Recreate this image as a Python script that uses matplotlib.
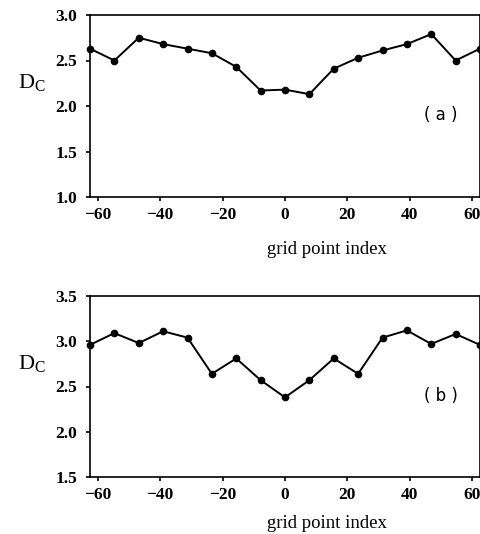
import numpy as np
import matplotlib
matplotlib.use("Agg")
import matplotlib.pyplot as plt

serif = "Liberation Serif"
plt.rcParams["mathtext.fontset"] = "custom"
plt.rcParams["mathtext.rm"] = serif

# grid point index (17 points, step 125/16)
idx = np.linspace(-62.5, 62.5, 17)
dc_a = [2.63, 2.50, 2.75, 2.68, 2.63, 2.58, 2.43, 2.17, 2.18, 2.13,
        2.41, 2.53, 2.61, 2.68, 2.79, 2.50, 2.63]
dc_b = [2.96, 3.09, 2.98, 3.11, 3.04, 2.64, 2.81, 2.57, 2.38, 2.57,
        2.81, 2.64, 3.04, 3.12, 2.97, 3.08, 2.96]
xticks = [-60, -40, -20, 0, 20, 40, 60]
yticks_a = [1.0, 1.5, 2.0, 2.5, 3.0]
yticks_b = [1.5, 2.0, 2.5, 3.0, 3.5]
panels = [("(a)", dc_a, (1.0, 3.0), yticks_a, 53),
          ("(b)", dc_b, (1.5, 3.5), yticks_b, 46)]

W, H = 481, 534
fig = plt.figure(figsize=(W / 100, H / 100), dpi=100)
# axes boxes in pixels: left, top, right, bottom
boxes = [(90, 15, 480, 197), (90, 296, 480, 477)]

for (lab, y, ylim, yt, xl_off), (l, t, r, b) in zip(panels, boxes):
    a = fig.add_axes([l / W, 1 - b / H, (r - l) / W, (b - t) / H])
    a.plot(idx, y, "k-", lw=1.4, marker="o", ms=4.5, clip_on=False)
    a.set_xlim(-62.5, 62.5)
    a.set_ylim(*ylim)
    a.set_xticks(xticks)
    a.set_yticks(yt)
    a.set_xticklabels([f"{v}".replace("-", "\u2212") for v in xticks])
    a.set_yticklabels([f"{v:.1f}" for v in yt])
    for s in a.spines.values():
        s.set_linewidth(1.2)
    a.tick_params(direction="out", length=3, width=1.2)
    a.tick_params(axis="x", pad=4)
    a.tick_params(axis="y", pad=6)
    for tl in a.get_xticklabels() + a.get_yticklabels():
        tl.set_fontfamily(serif)
        tl.set_fontweight("bold")
        tl.set_fontsize(12.5)
    a.text(0.9, 0.45, lab.replace("(", "( ").replace(")", " )"),
           transform=a.transAxes, fontsize=12, family="DejaVu Sans",
           ha="center", va="center")
    fig.text(32 / W, 1 - (t + 68) / H, r"D$_{\mathrm{C}}$", fontsize=16,
             family=serif, ha="center", va="center")
    fig.text(327 / W, 1 - (b + xl_off) / H, "grid point index", fontsize=13.5,
             family=serif, ha="center", va="center")

fig.savefig("out.png", dpi=100)
